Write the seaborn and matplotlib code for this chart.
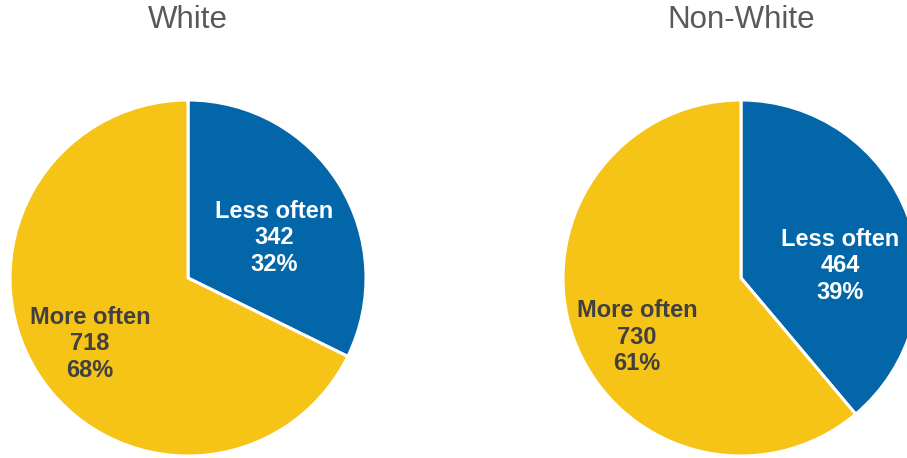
import matplotlib
matplotlib.use("Agg")
import matplotlib.pyplot as plt
import seaborn as sns

# Response counts by group
groups = ["White", "Non-White"]
categories = ["Less often", "More often"]
less_often = [342, 464]
more_often = [718, 730]

sns.set_theme(style="white")
plt.rcParams["font.family"] = ["Liberation Sans", "DejaVu Sans"]

colors = ["#0366A8", "#F6C317"]
text_colors = ["white", "#404040"]

W, H = 907, 458
fig = plt.figure(figsize=(W / 100, H / 100), dpi=100)
ax = fig.add_axes([0, 0, 1, 1])

# layout: pie centres and label anchors in pixel space (y from top)
centers = [(188, 278), (741, 278)]
radius = 178
label_pos = [
    [(274, 238), (90, 344)],
    [(840, 266), (637, 337)],
]
title_y = 20

for i, g in enumerate(groups):
    vals = [less_often[i], more_often[i]]
    cx, cy = centers[i]
    ax.pie(vals, colors=colors, startangle=90, counterclock=False,
           center=(cx, H - cy), radius=radius,
           wedgeprops=dict(edgecolor="white", linewidth=2.2))
    ax.text(cx, H - title_y, g, ha="center", va="center",
            fontsize=22.5, color="#595959")
    total = sum(vals)
    for j, cat in enumerate(categories):
        pct = round(100 * vals[j] / total)
        lx, ly = label_pos[i][j]
        ax.text(lx, H - ly, f"{cat}\n{vals[j]}\n{pct}%", ha="center",
                va="center", fontsize=17, fontweight="bold",
                color=text_colors[j], linespacing=1.2)

ax.set_xlim(0, W)
ax.set_ylim(0, H)
ax.set_aspect("equal")
ax.axis("off")

fig.savefig("out.png", dpi=100)
